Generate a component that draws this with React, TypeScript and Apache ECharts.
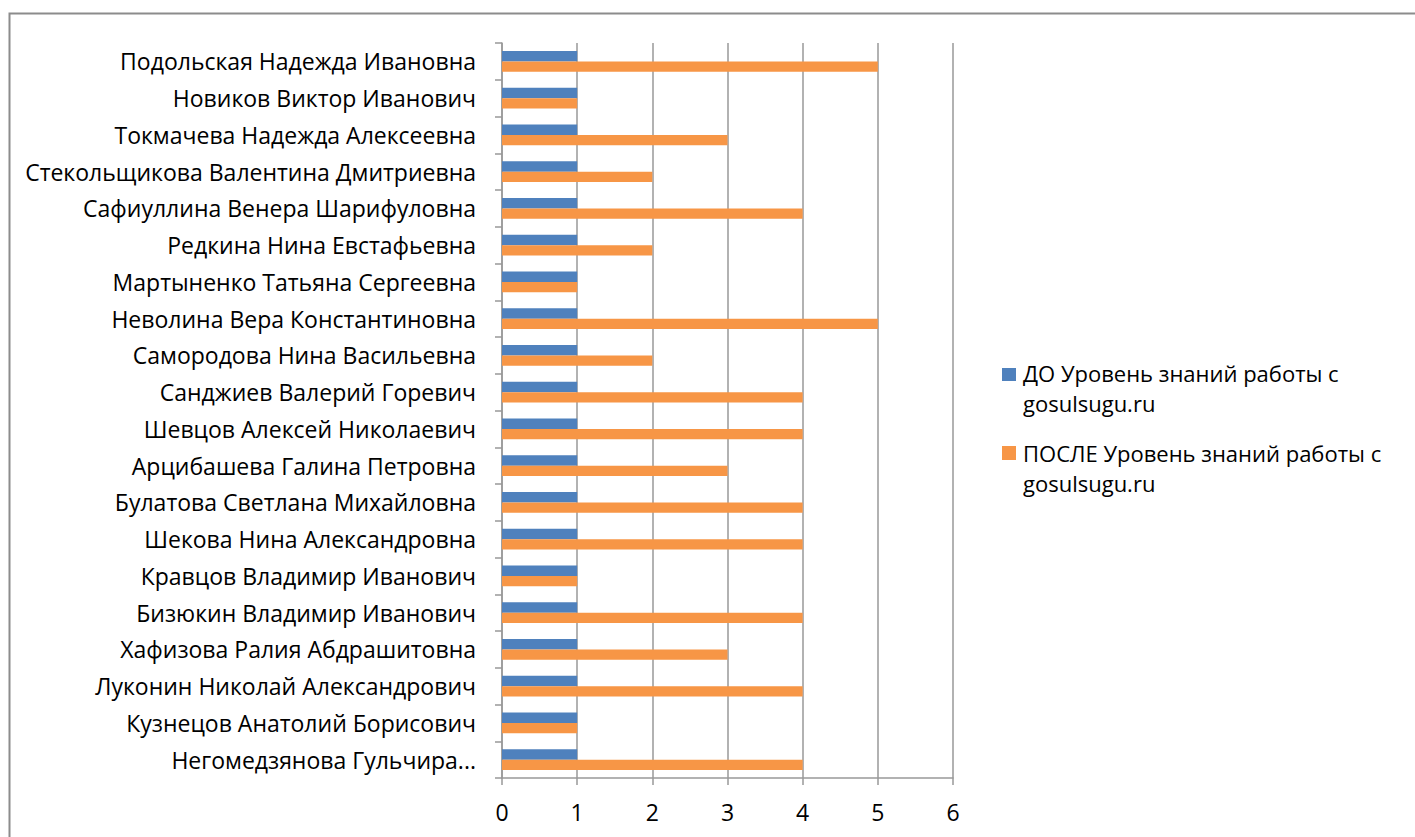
import React, { useEffect, useRef } from "react";
import * as echarts from "echarts";

const categories = [
  "Подольская Надежда Ивановна",
  "Новиков Виктор Иванович",
  "Токмачева Надежда Алексеевна",
  "Стекольщикова Валентина Дмитриевна",
  "Сафиуллина Венера Шарифуловна",
  "Редкина Нина Евстафьевна",
  "Мартыненко Татьяна Сергеевна",
  "Неволина Вера Константиновна",
  "Самородова Нина Васильевна",
  "Санджиев Валерий Горевич",
  "Шевцов Алексей Николаевич",
  "Арцибашева Галина Петровна",
  "Булатова Светлана Михайловна",
  "Шекова Нина Александровна",
  "Кравцов Владимир Иванович",
  "Бизюкин Владимир Иванович",
  "Хафизова Ралия Абдрашитовна",
  "Луконин Николай Александрович",
  "Кузнецов Анатолий Борисович",
  "Негомедзянова Гульчира...",
];

const beforeValues = [1, 1, 1, 1, 1, 1, 1, 1, 1, 1, 1, 1, 1, 1, 1, 1, 1, 1, 1, 1];
const afterValues = [5, 1, 3, 2, 4, 2, 1, 5, 2, 4, 4, 3, 4, 4, 1, 4, 3, 4, 1, 4];

const seriesNames = [
  "ДО Уровень знаний работы с\ngosulsugu.ru",
  "ПОСЛЕ Уровень знаний работы с\ngosulsugu.ru",
];
const colors = ["#4F81BD", "#F79646"];

const FONT = "Open Sans";

export default function App() {
  const ref = useRef<HTMLDivElement>(null);
  useEffect(() => {
    if (!ref.current) return;
    const chart = echarts.init(ref.current, null, { renderer: "svg" });
    const axisColor = "#999999";
    chart.setOption({
      animation: false,
      backgroundColor: "#ffffff",
      textStyle: { fontFamily: FONT },
      grid: { left: 502, right: 462, top: 43, bottom: 59, containLabel: false },
      xAxis: {
        type: "value",
        min: 0,
        max: 6,
        interval: 1,
        axisLine: { show: true, lineStyle: { color: axisColor, width: 1.5 } },
        axisTick: { show: true, length: 7, lineStyle: { color: axisColor, width: 1.5 } },
        splitLine: { show: true, lineStyle: { color: axisColor, width: 1.5 } },
        axisLabel: { color: "#000", fontSize: 23, fontFamily: FONT, margin: 22 },
      },
      yAxis: {
        type: "category",
        inverse: true,
        data: categories,
        axisLine: { show: true, lineStyle: { color: axisColor, width: 1.5 } },
        axisTick: { show: true, length: 7, lineStyle: { color: axisColor, width: 1.5 } },
        axisLabel: { color: "#000", fontSize: 23, fontFamily: FONT, margin: 26 },
      },
      series: [
        {
          name: seriesNames[0],
          type: "bar",
          data: beforeValues,
          itemStyle: { color: colors[0] },
          barGap: "0%",
          barCategoryGap: "42.86%",
        },
        {
          name: seriesNames[1],
          type: "bar",
          data: afterValues,
          itemStyle: { color: colors[1] },
          barGap: "0%",
          barCategoryGap: "42.86%",
        },
      ],
      graphic: [
        {
          type: "rect",
          shape: { x: 9.5, y: 13.5, width: 1430, height: 850 },
          style: { fill: "none", stroke: "#8c8c8c", lineWidth: 2 },
          silent: true,
        },
        {
          type: "rect",
          shape: { x: 1002, y: 368, width: 14, height: 13 },
          style: { fill: colors[0] },
        },
        {
          type: "text",
          x: 1023,
          y: 358,
          style: {
            text: seriesNames[0],
            font: `22px "${FONT}"`,
            fill: "#000",
            lineHeight: 30,
          },
        },
        {
          type: "rect",
          shape: { x: 1002, y: 446, width: 14, height: 14 },
          style: { fill: colors[1] },
        },
        {
          type: "text",
          x: 1023,
          y: 438,
          style: {
            text: seriesNames[1],
            font: `22px "${FONT}"`,
            fill: "#000",
            lineHeight: 30,
          },
        },
      ],
    });
    return () => chart.dispose();
  }, []);
  return (
    <div
      ref={ref}
      style={{ position: "fixed", left: 0, top: 0, width: 1415, height: 837, background: "#fff" }}
    />
  );
}
